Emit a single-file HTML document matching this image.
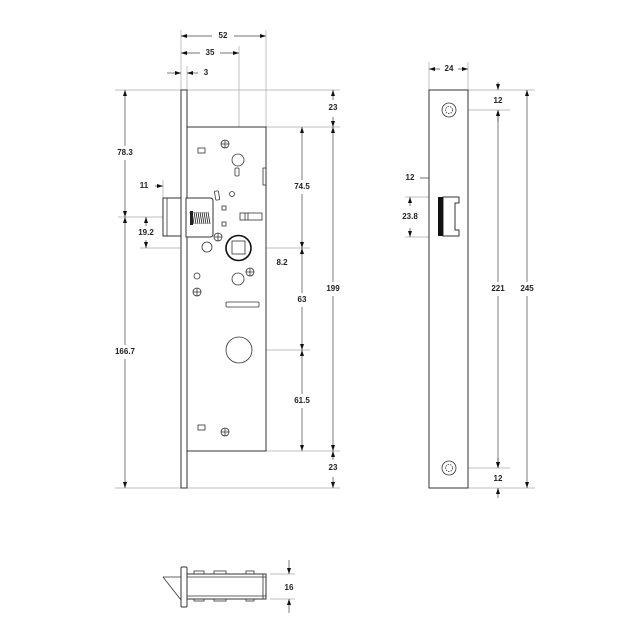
<!DOCTYPE html>
<html><head><meta charset="utf-8"><style>
html,body{margin:0;padding:0;background:#fff}
svg{display:block}
text{font-family:"Liberation Sans",sans-serif;font-size:8px;font-weight:bold;fill:#222;text-anchor:middle;dominant-baseline:middle}
.e{stroke:#aaa;stroke-width:.7;fill:none}
.d{stroke:#444;stroke-width:.7;fill:none}
.o{stroke:#333;stroke-width:1;fill:#fff}
.t{stroke:#333;stroke-width:.8;fill:none}
</style></head><body>
<svg width="640" height="640" viewBox="0 0 640 640" xmlns="http://www.w3.org/2000/svg">
<defs>
<marker id="a" viewBox="0 0 6 4" refX="6" refY="2" markerWidth="6" markerHeight="4" orient="auto-start-reverse" markerUnits="userSpaceOnUse"><path d="M0,0L6,2L0,4z" fill="#111"/></marker>
</defs>
<!-- extension lines main -->
<g class="e">
<line x1="115" y1="90" x2="181" y2="90"/><line x1="187" y1="90" x2="340" y2="90"/>
<line x1="266" y1="127" x2="340" y2="127"/>
<line x1="266" y1="451" x2="340" y2="451"/>
<line x1="115" y1="488" x2="340" y2="488"/>
<line x1="118" y1="217" x2="163" y2="217"/>
<line x1="140" y1="248" x2="310" y2="248"/>
<line x1="239" y1="350" x2="310" y2="350"/>
<line x1="181" y1="30" x2="181" y2="90"/>
<line x1="187" y1="66" x2="187" y2="90"/>
<line x1="239" y1="46" x2="239" y2="262"/>
<line x1="266" y1="30" x2="266" y2="127"/>
<line x1="163" y1="180" x2="163" y2="198"/>
<line x1="233" y1="255" x2="233" y2="268"/><line x1="245" y1="255" x2="245" y2="268"/>
</g>
<!-- dims main -->
<g class="d">
<line x1="181" y1="36" x2="212" y2="36" marker-start="url(#a)"/><line x1="234" y1="36" x2="266" y2="36" marker-end="url(#a)"/>
<line x1="181" y1="53" x2="200" y2="53" marker-start="url(#a)"/><line x1="220" y1="53" x2="239" y2="53" marker-end="url(#a)"/>
<line x1="167" y1="73" x2="181" y2="73" marker-end="url(#a)"/><line x1="198" y1="73" x2="187" y2="73" marker-end="url(#a)"/>
<line x1="155" y1="186" x2="163" y2="186" marker-end="url(#a)"/><line x1="189" y1="186" x2="181" y2="186" marker-end="url(#a)"/>
<line x1="125" y1="90" x2="125" y2="146" marker-start="url(#a)"/><line x1="125" y1="160" x2="125" y2="217" marker-end="url(#a)"/>
<line x1="125" y1="217" x2="125" y2="345" marker-start="url(#a)"/><line x1="125" y1="359" x2="125" y2="488" marker-end="url(#a)"/>
<line x1="146" y1="226" x2="146" y2="217" marker-end="url(#a)"/><line x1="146" y1="240" x2="146" y2="248" marker-end="url(#a)"/>
<line x1="302" y1="127" x2="302" y2="180" marker-start="url(#a)"/><line x1="302" y1="194" x2="302" y2="248" marker-end="url(#a)"/>
<line x1="302" y1="248" x2="302" y2="293" marker-start="url(#a)"/><line x1="302" y1="307" x2="302" y2="350" marker-end="url(#a)"/>
<line x1="302" y1="350" x2="302" y2="394" marker-start="url(#a)"/><line x1="302" y1="408" x2="302" y2="451" marker-end="url(#a)"/>
<line x1="333" y1="100" x2="333" y2="90" marker-end="url(#a)"/><line x1="333" y1="117" x2="333" y2="127" marker-end="url(#a)"/>
<line x1="333" y1="127" x2="333" y2="282" marker-start="url(#a)"/><line x1="333" y1="296" x2="333" y2="451" marker-end="url(#a)"/>
<line x1="333" y1="460" x2="333" y2="451" marker-end="url(#a)"/><line x1="333" y1="477" x2="333" y2="488" marker-end="url(#a)"/>
<line x1="222" y1="263" x2="233" y2="263" marker-end="url(#a)"/><line x1="265" y1="263" x2="245" y2="263" marker-end="url(#a)"/>
</g>
<g>
<text x="223" y="36">52</text><text x="210" y="53">35</text><text x="206" y="73">3</text>
<text x="144" y="186">11</text><text x="125" y="153">78.3</text><text x="125" y="352">166.7</text>
<text x="146" y="233">19.2</text><text x="302" y="187">74.5</text><text x="302" y="300">63</text>
<text x="302" y="401">61.5</text><text x="333" y="108">23</text><text x="333" y="289">199</text>
<text x="333" y="468">23</text><text x="282" y="263">8.2</text>
</g>
<!-- main drawing -->
<rect class="o" x="181" y="90" width="6" height="398"/>
<rect class="o" x="187" y="127" width="79" height="324"/>
<rect class="t" x="263" y="168" width="3" height="17"/>
<rect class="o" x="163" y="198" width="18" height="38"/>
<line class="t" x1="167" y1="198" x2="167" y2="236"/>
<path class="o" d="M186,198H210Q213,198 213,201V234Q213,237 210,237H186z"/>
<path d="M190,212 L192,224 M192,212 L194,224 M194,212L196,224 M196,212L198,224 M198,212L200,224 M200,212L202,224 M202,212L204,224 M204,212L206,224 M206,212L208,224 M208,212L210,224" stroke="#222" stroke-width=".8"/>
<rect x="190" y="211" width="3" height="14" fill="#222"/>
<g class="t">
<circle cx="225" cy="144" r="4"/><path d="M221,144h8M225,140v8"/>
<rect x="198" y="148" width="7" height="5"/>
<circle cx="238" cy="160" r="6"/>
<rect x="235" y="168" width="4" height="8" rx="1"/>
<rect x="215" y="191" width="4" height="9" rx="1" transform="rotate(-10 217 195)"/>
<circle cx="232" cy="194" r="2.5"/>
<rect x="222" y="206" width="4" height="4"/><rect x="222" y="222" width="4" height="4"/>
<rect x="240" y="213" width="22" height="7"/><path d="M245,213v7M248,213v7"/>
<circle cx="218" cy="237" r="4"/><path d="M214,237h8M218,233v8"/>
<circle cx="207" cy="247" r="5"/>
<rect x="232" y="241" width="13" height="13"/>
<circle cx="197" cy="276" r="3"/>
<circle cx="197" cy="292" r="4"/><path d="M193,292h8M197,288v8"/>
<circle cx="238" cy="279" r="6"/>
<circle cx="250" cy="272" r="4"/><path d="M246,272h8M250,268v8"/>
<rect x="226" y="302" width="33" height="5" rx="1"/>
<circle cx="239" cy="350" r="13"/>
<rect x="198" y="425" width="7" height="5"/>
<circle cx="225" cy="432" r="4"/><path d="M221,432h8M225,428v8"/>
</g>
<circle cx="238.5" cy="248" r="12.5" fill="none" stroke="#111" stroke-width="1.6"/>
<!-- right view -->
<g class="e">
<line x1="429" y1="62" x2="429" y2="90"/><line x1="468" y1="62" x2="468" y2="90"/>
<line x1="468" y1="90" x2="535" y2="90"/><line x1="449" y1="110" x2="510" y2="110"/>
<line x1="449" y1="468" x2="510" y2="468"/><line x1="468" y1="488" x2="535" y2="488"/>
<line x1="440" y1="172" x2="440" y2="197"/><line x1="458" y1="172" x2="458" y2="197"/>
<line x1="405" y1="197" x2="438" y2="197"/><line x1="405" y1="237" x2="438" y2="237"/>
</g>
<g class="d">
<line x1="429" y1="69" x2="440" y2="69" marker-start="url(#a)"/><line x1="458" y1="69" x2="468" y2="69" marker-end="url(#a)"/>
<line x1="498" y1="82" x2="498" y2="90" marker-end="url(#a)"/><line x1="498" y1="122" x2="498" y2="110" marker-end="url(#a)"/>
<line x1="498" y1="110" x2="498" y2="282" marker-start="url(#a)"/><line x1="498" y1="296" x2="498" y2="468" marker-end="url(#a)"/>
<line x1="498" y1="458" x2="498" y2="468" marker-end="url(#a)"/><line x1="498" y1="498" x2="498" y2="488" marker-end="url(#a)"/>
<line x1="527" y1="90" x2="527" y2="282" marker-start="url(#a)"/><line x1="527" y1="296" x2="527" y2="488" marker-end="url(#a)"/>
<line x1="420" y1="178" x2="440" y2="178" marker-end="url(#a)"/><line x1="466" y1="178" x2="458" y2="178" marker-end="url(#a)"/>
<line x1="410" y1="206" x2="410" y2="197" marker-end="url(#a)"/><line x1="410" y1="228" x2="410" y2="237" marker-end="url(#a)"/>
</g>
<g>
<text x="449" y="69">24</text><text x="498" y="101">12</text><text x="498" y="289">221</text>
<text x="527" y="289">245</text><text x="498" y="479">12</text><text x="410" y="178">12</text><text x="410" y="217">23.8</text>
</g>
<rect class="o" x="429" y="90" width="39" height="398"/>
<g class="t"><circle cx="449" cy="110" r="7"/><circle cx="449" cy="110" r="3.5" stroke-dasharray="1.5 1"/>
<circle cx="449" cy="468" r="7"/><circle cx="449" cy="468" r="3.5" stroke-dasharray="1.5 1"/></g>
<path class="o" d="M443,197h16v6h-4v27h4v6h-16z"/>
<rect x="438" y="197" width="5" height="39" fill="#111"/>
<!-- bottom view -->
<g class="e"><line x1="270" y1="574" x2="295" y2="574"/><line x1="270" y1="599" x2="295" y2="599"/></g>
<g class="d"><line x1="289" y1="560" x2="289" y2="574" marker-end="url(#a)"/><line x1="289" y1="613" x2="289" y2="599" marker-end="url(#a)"/></g>
<text x="289" y="588">16</text>
<g class="t">
<path d="M163,577H181M163,577L181,600"/>
<rect x="194" y="571" width="10" height="3"/><rect x="214" y="571" width="12" height="3"/><rect x="246" y="571" width="8" height="3"/>
<rect x="194" y="599" width="10" height="2"/><rect x="214" y="599" width="12" height="2"/><rect x="246" y="599" width="8" height="2"/>
</g>
<rect class="o" x="187" y="574" width="79" height="25"/>
<g class="t"><line x1="187" y1="577" x2="266" y2="577"/><line x1="187" y1="596" x2="266" y2="596"/><line x1="263" y1="574" x2="263" y2="599"/></g>
<rect class="o" x="181" y="567" width="6" height="40" rx="1"/>
</svg>
</body></html>
